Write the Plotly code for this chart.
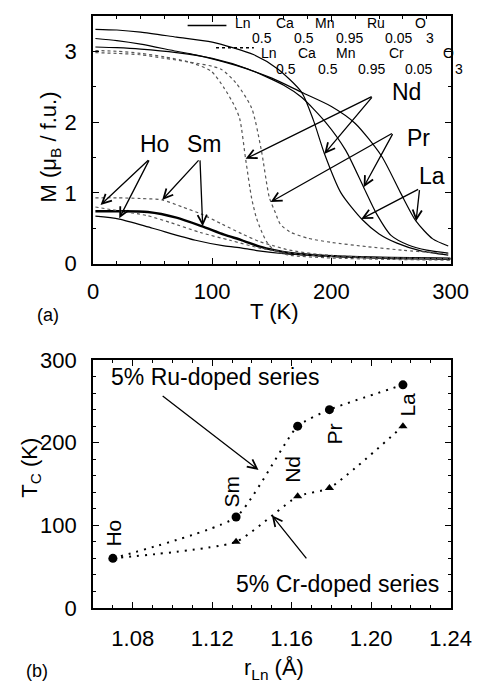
import plotly.graph_objects as go

# ---------------- Panel (a) data: M(T) curves ----------------
nd_ru_T = [2, 20, 40, 70, 100, 135, 155, 175, 185, 194, 208, 226, 240, 255, 275, 298]
nd_ru_M = [3.31, 3.30, 3.27, 3.20, 3.13, 2.95, 2.75, 2.42, 2.02, 1.56, 1.00, 0.62, 0.42, 0.29, 0.18, 0.12]

la_ru_T = [2, 20, 40, 70, 86, 120, 150, 175, 200, 220, 242, 258, 271, 285, 298]
la_ru_M = [3.18, 3.15, 3.10, 3.00, 2.95, 2.80, 2.62, 2.42, 2.22, 1.98, 1.52, 1.00, 0.60, 0.35, 0.25]

pr_ru_T = [2, 20, 40, 70, 100, 130, 160, 175, 195, 212, 227, 238, 250, 265, 280, 298]
pr_ru_M = [3.06, 3.05, 3.03, 2.98, 2.90, 2.75, 2.52, 2.35, 2.00, 1.60, 1.08, 0.70, 0.40, 0.26, 0.19, 0.15]

sm_ru_T = [2, 20, 46, 70, 91, 110, 125, 140, 152, 165, 185, 210, 250, 300]
sm_ru_M = [0.74, 0.74, 0.73, 0.65, 0.53, 0.41, 0.33, 0.24, 0.19, 0.15, 0.12, 0.10, 0.08, 0.07]

ho_ru_T = [2, 22, 50, 86, 110, 125, 139, 160, 190, 230, 300]
ho_ru_M = [0.67, 0.63, 0.50, 0.33, 0.25, 0.22, 0.18, 0.14, 0.11, 0.09, 0.07]

nd_cr_T = [2, 20, 40, 60, 80, 99, 110, 118, 123, 128, 133, 137, 141, 146, 152, 165, 200, 250, 300]
nd_cr_M = [3.01, 3.00, 2.97, 2.92, 2.85, 2.72, 2.48, 2.25, 2.05, 1.48, 0.93, 0.65, 0.47, 0.30, 0.19, 0.12, 0.08, 0.06, 0.05]

pr_cr_T = [2, 20, 40, 60, 80, 107, 120, 133, 141, 148, 153, 157, 165, 180, 200, 230, 260, 298]
pr_cr_M = [2.98, 2.97, 2.95, 2.90, 2.85, 2.75, 2.55, 2.20, 1.62, 0.93, 0.72, 0.56, 0.45, 0.36, 0.30, 0.24, 0.19, 0.14]

sm_cr_T = [2, 20, 40, 58, 75, 91, 108, 125, 140, 152, 165, 190, 230, 300]
sm_cr_M = [0.93, 0.93, 0.92, 0.90, 0.80, 0.70, 0.56, 0.42, 0.31, 0.25, 0.19, 0.13, 0.09, 0.07]

ho_cr_T = [2, 20, 45, 65, 90, 115, 140, 170, 200, 250, 300]
ho_cr_M = [0.80, 0.75, 0.68, 0.58, 0.44, 0.33, 0.22, 0.14, 0.10, 0.08, 0.07]

# ---------------- Panel (b) data: Tc vs r_Ln ----------------
ln_names = ["Ho", "Sm", "Nd", "Pr", "La"]
r_ln = [1.07, 1.132, 1.163, 1.179, 1.216]
tc_ru = [60, 110, 220, 240, 270]
tc_cr = [60, 80, 135, 145, 220]

FONT = "Liberation Sans, Arial, Helvetica, sans-serif"
W, H = 500, 698


def px(x):
    return x / W


def py(y):
    return 1 - y / H


fig = go.Figure()

solid = dict(color="black", width=1.2)
thick = dict(color="black", width=2.4)
dotted = dict(color="#555555", width=1.2, dash="dot")

for T, M, ln in [
    (nd_ru_T, nd_ru_M, solid), (la_ru_T, la_ru_M, solid), (pr_ru_T, pr_ru_M, solid),
    (sm_ru_T, sm_ru_M, thick), (ho_ru_T, ho_ru_M, solid),
    (nd_cr_T, nd_cr_M, dotted), (pr_cr_T, pr_cr_M, dotted),
    (sm_cr_T, sm_cr_M, dotted), (ho_cr_T, ho_cr_M, dotted),
]:
    fig.add_trace(go.Scatter(x=T, y=M, mode="lines", line=dict(shape="spline", smoothing=0.7, **ln),
                             xaxis="x", yaxis="y", showlegend=False, hoverinfo="skip"))

# Panel b lines + markers
fig.add_trace(go.Scatter(x=r_ln, y=tc_cr, mode="lines+markers",
                         line=dict(color="black", width=2, dash="2px,6px", shape="spline", smoothing=0.5),
                         marker=dict(symbol="triangle-up", size=8, color="black"),
                         xaxis="x2", yaxis="y2", showlegend=False))
fig.add_trace(go.Scatter(x=r_ln, y=tc_ru, mode="lines+markers",
                         line=dict(color="black", width=2, dash="2px,6px", shape="spline", smoothing=0.5),
                         marker=dict(symbol="circle", size=9, color="black"),
                         xaxis="x2", yaxis="y2", showlegend=False))

axis_common = dict(showline=True, linewidth=2, linecolor="black", mirror="allticks",
                   ticks="inside", ticklen=6, tickwidth=1, tickcolor="black",
                   showgrid=False, zeroline=False,
                   tickfont=dict(family=FONT, size=22, color="black"))

fig.update_layout(
    width=W, height=H, margin=dict(l=0, r=0, t=0, b=0),
    paper_bgcolor="white", plot_bgcolor="white",
    xaxis=dict(domain=[px(92), px(470)], anchor="y", range=[0, 300], tickvals=[0, 100, 200, 300],
               minor=dict(dtick=20, ticks="inside", ticklen=3, tickcolor="black"),
               ticklabelstandoff=7, **axis_common),
    yaxis=dict(domain=[py(261), py(4)], anchor="x", range=[0, 3.5], tickvals=[0, 1, 2, 3],
               minor=dict(dtick=0.5, ticks="inside", ticklen=3, tickcolor="black"),
               ticklabelstandoff=10, **axis_common),
    xaxis2=dict(domain=[px(92), px(470)], anchor="y2", range=[1.06, 1.24],
                tickvals=[1.08, 1.12, 1.16, 1.20, 1.24], ticktext=["1.08", "1.12", "1.16", "1.20", "1.24"],
                minor=dict(dtick=0.01, ticks="inside", ticklen=3, tickcolor="black"),
                ticklabelstandoff=10, **axis_common),
    yaxis2=dict(domain=[py(618), py(361)], anchor="x2", range=[0, 300], tickvals=[0, 100, 200, 300],
                minor=dict(tickvals=[20, 40, 60, 80, 120, 140, 160, 180, 220, 240, 260, 280], ticks="inside",
                           ticklen=3, tickcolor="black"),
                ticklabelstandoff=10, **axis_common),
)

ann = []


def text(x, y, s, size=21, ref="paper", angle=0, xanchor="center", yanchor="middle"):
    d = dict(x=x, y=y, text=s, showarrow=False, textangle=angle, xanchor=xanchor, yanchor=yanchor,
             font=dict(family=FONT, size=size, color="black"))
    if ref == "paper":
        d.update(xref="paper", yref="paper")
    elif ref == "a":
        d.update(xref="x", yref="y")
    else:
        d.update(xref="x2", yref="y2")
    ann.append(d)


def arrow(xh, yh, xt, yt, panel="a"):
    xr, yr = ("x", "y") if panel == "a" else ("x2", "y2")
    ann.append(dict(x=xh, y=yh, ax=xt, ay=yt, xref=xr, yref=yr, axref=xr, ayref=yr, text="",
                    showarrow=True, arrowhead=5, arrowsize=1.4, arrowwidth=1.3, arrowcolor="black"))


# Axis titles and panel labels
text(px(283), py(311), "T (K)", size=22)
text(px(44), py(314), "(a)", size=18)
text(px(47), py(140), "M (μ<sub>B</sub> / f.u.)", size=22, angle=-90)
text(px(283), py(681), "r<sub>Ln</sub> (Å)", size=22)
text(px(33), py(683), "(b)", size=18)
text(px(26), py(473), "T<sub>C</sub> (K)", size=22, angle=-90)

# Panel (a) labels & arrows
text(51.6, 1.69, "Ho", size=23, ref="a")
text(93.7, 1.69, "Sm", size=23, ref="a")
text(249, 2.42, "Nd", size=23, ref="a", xanchor="left")
text(262, 1.78, "Pr", size=23, ref="a", xanchor="left")
text(272, 1.24, "La", size=23, ref="a", xanchor="left")

arrow(6.3, 0.83, 47.6, 1.48)
arrow(22, 0.64, 47.6, 1.48)
arrow(58, 0.90, 89.7, 1.48)
arrow(92, 0.53, 89.7, 1.48)
arrow(128, 1.48, 235, 2.37)
arrow(194, 1.55, 235, 2.37)
arrow(149, 0.87, 252, 1.85)
arrow(227, 1.08, 252, 1.85)
arrow(225, 0.63, 274, 1.06)
arrow(271, 0.60, 274, 1.06)

# Legend (drawn manually, gnuplot-like subscripts)
shapes = [
    dict(type="line", xref="paper", yref="paper", x0=px(192), x1=px(233), y0=py(14), y1=py(14),
         line=dict(color="black", width=1.5)),
    dict(type="line", xref="paper", yref="paper", x0=px(222), x1=px(262), y0=py(37), y1=py(37),
         line=dict(color="black", width=1.5, dash="dot")),
]
leg1_main = [("Ln", 240), ("Ca", 283), ("Mn", 325), ("Ru", 380), ("O", 430)]
leg1_sub = [("0.5", 258), ("0.5", 302), ("0.95", 347), ("0.05", 398), ("3", 442)]
leg2_main = [("Ln", 267), ("Ca", 307), ("Mn", 347), ("Cr", 403), ("O", 460)]
leg2_sub = [("0.5", 283), ("0.5", 328), ("0.95", 370), ("0.05", 420), ("3", 473)]
for s, x in leg1_main:
    text(px(x), py(11), s, size=14, xanchor="left")
for s, x in leg1_sub:
    text(px(x), py(27), s, size=14, xanchor="left")
for s, x in leg2_main:
    text(px(x), py(43), s, size=14, xanchor="left")
for s, x in leg2_sub:
    text(px(x), py(59), s, size=14, xanchor="left")

# Panel (b) labels
lab_x = [1.0705, 1.1295, 1.160, 1.1814, 1.2185]
lab_y = [91, 141, 168, 210, 246]
for name, lx, ly in zip(ln_names, lab_x, lab_y):
    text(lx, ly, name, size=21, ref="b", angle=-90)

text(1.1215, 280, "5% Ru-doped series", size=23, ref="b")
text(1.1833, 29, "5% Cr-doped series", size=23, ref="b")
arrow(1.1433, 167, 1.0943, 258, panel="b")
arrow(1.150, 112, 1.168, 58, panel="b")

fig.update_layout(annotations=ann, shapes=shapes)
fig.write_html("out.html")
